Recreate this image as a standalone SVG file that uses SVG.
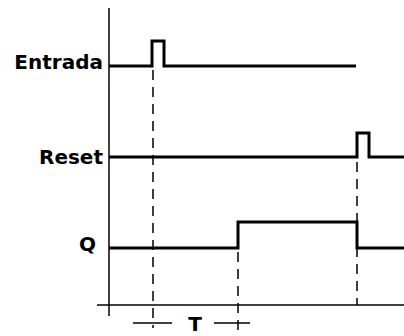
<svg xmlns="http://www.w3.org/2000/svg" width="404" height="336" viewBox="0 0 404 336">
<style>
.sig{fill:none;stroke:#000;stroke-width:3;stroke-linejoin:miter}
.ax{fill:none;stroke:#000;stroke-width:1.5}
.dash{fill:none;stroke:#000;stroke-width:1.5;stroke-dasharray:10 7}
.lbl{font-family:"DejaVu Sans",sans-serif;font-weight:bold;font-size:20px;fill:#000}
</style>
<rect width="404" height="336" fill="#fff"/>
<g id="axes">
<line class="ax" x1="109" y1="8" x2="109" y2="316"/>
<line class="ax" x1="97" y1="305" x2="404" y2="305"/>
</g>
<g id="entrada">
<text class="lbl" x="103" y="69" text-anchor="end">Entrada</text>
<polyline class="sig" points="109,66 152,66 152,41 164,41 164,66 356,66"/>
</g>
<g id="reset">
<text class="lbl" x="103" y="164" text-anchor="end">Reset</text>
<polyline class="sig" points="109,157 357,157 357,133 369,133 369,157 404,157"/>
</g>
<g id="q">
<text class="lbl" x="96" y="251" text-anchor="end">Q</text>
<polyline class="sig" points="109,248 238,248 238,222 357,222 357,248 404,248"/>
</g>
<g id="connectors">
<line class="dash" x1="153" y1="70" x2="153" y2="328"/>
<line class="dash" x1="238" y1="252" x2="238" y2="331"/>
<line class="dash" x1="357" y1="162" x2="357" y2="305"/>
</g>
<g id="T">
<line class="ax" x1="133" y1="323" x2="172" y2="323"/>
<line class="ax" x1="214" y1="323" x2="250" y2="323"/>
<text class="lbl" x="195" y="331" text-anchor="middle">T</text>
</g>
</svg>
